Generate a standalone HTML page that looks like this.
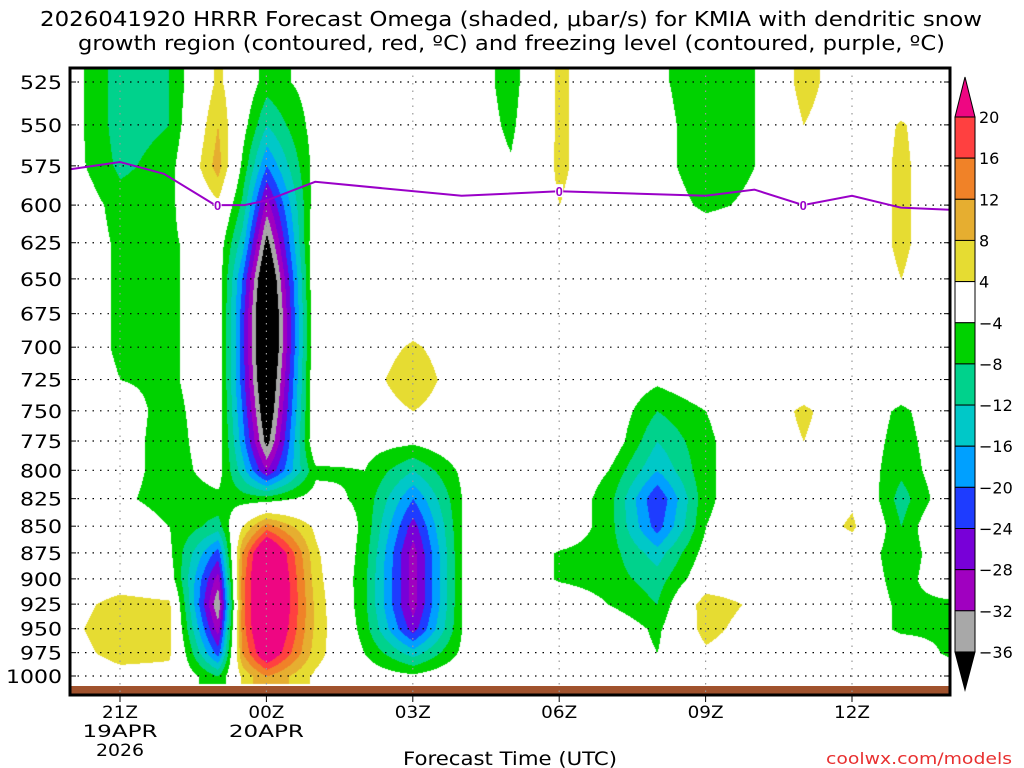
<!DOCTYPE html>
<html><head><meta charset="utf-8">
<style>
body{margin:0;background:#fff;width:1024px;height:768px;overflow:hidden;font-family:"Liberation Sans","DejaVu Sans",sans-serif;}
#wrap{position:relative;width:1024px;height:768px;}
canvas{position:absolute;left:0;top:0;}
svg{position:absolute;left:0;top:0;}
</style></head><body>
<div id="wrap">
<canvas id="cv" width="1024" height="768"></canvas>
<svg id="sv" width="1024" height="768"></svg>
</div>
<script>
const times=[20,21,22,23,23.5,24,25,26,27,28,29,30,31,32,33,34,35,36,37,38];
const levels=[525,550,575,600,625,650,675,700,725,750,775,800,825,850,875,900,925,950,975,1000];
// omega[level][time]
const omega=[
/*525*/[-2,-10,-8,5,0,-6,-2,0,0,0,-6,5,0,-3,-7,-4,6,0,0,0],
/*550*/[-2,-10,-8,8,-2,-12,-2,0,0,0,-5,5,0,-2,-7,-4,4,0,4.5,0],
/*575*/[-2,-9,-6,10,-5,-20,-2,0,0,0,-3.5,5,0,-2,-7,-4,0,0,5,0],
/*600*/[0,-6,-5,3,-9,-30,-1,0,0,0,-1,4,0,-1,-5,-3,0,0,5,0],
/*625*/[0,-5,-4.8,-1,-14,-38,1,0,0,0,0,0,0,0,0,0,0,0,5,0],
/*650*/[0,-5,-4.8,-1,-20,-45,1,0,0,0,0,0,0,0,0,0,0,0,4,0],
/*675*/[0,-5,-4.8,-1,-22,-48,1,0,0,0,0,0,0,0,0,0,0,0,0,0],
/*700*/[0,-5,-4.8,-1,-22,-48,1,0,5,0,0,0,0,0,0,0,0,0,0,0],
/*725*/[0,-4,-4.8,-1,-22,-45,1,1,8,0,0,0,0,-3,0,0,0,0,0,0],
/*750*/[0,-2,-5.5,-1,-20,-42,1,0,4,0,0,0,0,-8,-4,0,5,0,-5,0],
/*775*/[0,-2,-6,-1,-18,-38,1,-2,-3,0,0,0,0,-12,-5,0,4,0,-6,0],
/*800*/[0,-2,-6,-2,-14,-28,-5,-4,-12,-3,0,0,-4,-16,-5,0,0,0,-7,0],
/*825*/[0,-3,-6,-5,-6,-6,-2,-5,-20,-4,0,0,-6,-24,-5,0,0,3,-10,0],
/*850*/[0,0,-4,-10,4,14,3,-5,-26,-4,0,0,-6,-22,-4,0,0,5,-8,4],
/*875*/[0,0,-3,-22,12,30,5,-6,-30,-4,0,-4.5,-6,-14,-2,0,0,0,-7,0],
/*900*/[0,1,-1,-30,14,32,6,-7,-30,-4,0,-4.5,-6,-10,0,0,0,0,-6,0],
/*925*/[2,6,5,-36,14,32,7,-7,-30,-4,0,0,-4,-8,7,3,0,0,-5,-5],
/*950*/[3,7,5,-30,14,30,7,-6,-26,-4,0,0,0,-5,6,1,0,0,-5,-5],
/*975*/[2,6,5,-22,12,26,6,-4,-14,-3,0,0,0,-4,3,0,0,0,0,-5],
/*1000*/[0,2,2,-8,5,12,3,-1,-3,0,0,0,0,0,0,0,0,0,0,0]
];
const frzTimes=[20,21,21.9,22.95,23.55,24,25,28,30,33,34,35,36,37,38];
const frzLevels=[577,572.6,580,600,600,597,585,594,591,594,590,600,594,601.6,603];
const frzLabelTimes=[23,30,35];
const yTicks=[525,550,575,600,625,650,675,700,725,750,775,800,825,850,875,900,925,950,975,1000];
const xTickHours=[21,24,27,30,33,36];
const xTickLabels=[["21Z","19APR","2026"],["00Z","20APR"],["03Z"],["06Z"],["09Z"],["12Z"]];
const cbLevels=[20,16,12,8,4,-4,-8,-12,-16,-20,-24,-28,-32,-36];
const cbColors=["#ee0682","#ff4040","#f08228","#e6ae30","#e6dc32","#ffffff","#00d200","#00d28c","#00c8c8","#00a0ff","#1e3cff","#7800d8","#a000c0","#a8a8a8","#000000"];

const PL=70,PR=950,PT=68,PB=695;
function xOf(t){return 120+(t-21)*48.8;}
function tOf(x){return 21+(x-120)/48.8;}
const LN=Math.log(1000/525);
function yOf(p){return 82+Math.log(p/525)/LN*594;}
function pOf(y){return 525*Math.exp((y-82)/594*LN);}
function colorIdx(v){
  if(v>=20)return 0;if(v>=16)return 1;if(v>=12)return 2;if(v>=8)return 3;if(v>=4)return 4;
  if(v>-4)return 5;if(v>-8)return 6;if(v>-12)return 7;if(v>-16)return 8;if(v>-20)return 9;
  if(v>-24)return 10;if(v>-28)return 11;if(v>-32)return 12;if(v>-36)return 13;return 14;}
function hex(h){return [parseInt(h.substr(1,2),16),parseInt(h.substr(3,2),16),parseInt(h.substr(5,2),16)];}
const rgb=cbColors.map(hex);
function interp(t,p){
  let i0,ft;
  if(t<=times[0]){i0=0;ft=0;}else if(t>=times[times.length-1]){i0=times.length-2;ft=1;}
  else{i0=0;while(times[i0+1]<t)i0++;ft=(t-times[i0])/(times[i0+1]-times[i0]);}
  let lp=levels.findIndex(l=>l>p);let j0,fp;
  if(p<=levels[0]){j0=0;fp=0;}else if(lp<0){j0=levels.length-2;fp=1;}
  else{j0=lp-1;fp=(Math.log(p)-Math.log(levels[j0]))/(Math.log(levels[j0+1])-Math.log(levels[j0]));}
  const a=omega[j0][i0],b=omega[j0][i0+1],c=omega[j0+1][i0],d=omega[j0+1][i0+1];
  return (a*(1-ft)+b*ft)*(1-fp)+(c*(1-ft)+d*ft)*fp;}
const cv=document.getElementById('cv');const ctx=cv.getContext('2d');
ctx.fillStyle='#fff';ctx.fillRect(0,0,1024,768);
const img=ctx.getImageData(PL,PT,PR-PL,684-PT);
for(let y=0;y<img.height;y++){const p=pOf(PT+y);
  for(let x=0;x<img.width;x++){const t=tOf(PL+x);const c=rgb[colorIdx(interp(t,p))];
    const k=(y*img.width+x)*4;img.data[k]=c[0];img.data[k+1]=c[1];img.data[k+2]=c[2];img.data[k+3]=255;}}
ctx.putImageData(img,PL,PT);

const NS='http://www.w3.org/2000/svg';const sv=document.getElementById('sv');
function mk(tag,attrs,parent){const e=document.createElementNS(NS,tag);for(const k in attrs)e.setAttribute(k,attrs[k]);(parent||sv).appendChild(e);return e;}
const FF='"DejaVu Sans","Liberation Sans",sans-serif';
// ground
let g=mk('rect',{x:PL,y:686,width:PR-PL,height:PB-686,fill:'#a0522d'});


// grid + y ticks
yTicks.forEach(p=>{const y=yOf(p);
  const l=mk('line',{x1:PL,x2:PR,y1:y,y2:y,stroke:'#000','stroke-width':1.2,'stroke-dasharray':'1.5,6'});
  
  
  mk('line',{x1:PL,x2:PL+6,y1:y,y2:y,stroke:'#000'});
  mk('line',{x1:PR-6,x2:PR,y1:y,y2:y,stroke:'#000'});
  const s=String(p);
  const t=mk('text',{x:62,y:y+7,'text-anchor':'end','font-size':19,fill:'#000','font-family':FF,textLength:s.length*14,lengthAdjust:'spacingAndGlyphs'});t.textContent=s;
  
  });
xTickHours.forEach((h,i)=>{const x=xOf(h);
  const l=mk('line',{x1:x,x2:x,y1:PT,y2:PB,stroke:'#999','stroke-width':1.2,'stroke-dasharray':'1.5,6'});
  
  
  mk('line',{x1:x,x2:x,y1:PB,y2:PB+7,stroke:'#000'});
  xTickLabels[i].forEach((s,j)=>{const t=mk('text',{x:x,y:718+j*19,'text-anchor':'middle','font-size':17,fill:'#000','font-family':FF,textLength:s.length*(s.length>4?15:12),lengthAdjust:'spacingAndGlyphs'});t.textContent=s;
    
    });});
// freezing level
let d=frzTimes.map((t,i)=>(i?'L':'M')+xOf(t).toFixed(1)+','+yOf(frzLevels[i]).toFixed(1)).join(' ');
const fl=mk('path',{d:d,fill:'none',stroke:'#9a00c8','stroke-width':2});


function lvlAt(t){for(let i=0;i<frzTimes.length-1;i++)if(t>=frzTimes[i]&&t<=frzTimes[i+1]){const f=(t-frzTimes[i])/(frzTimes[i+1]-frzTimes[i]);return frzLevels[i]*(1-f)+frzLevels[i+1]*f;}return frzLevels[0];}
frzLabelTimes.forEach(t=>{const x=xOf(t),y=yOf(lvlAt(t));
  mk('rect',{x:x-4,y:y-7,width:8,height:13,fill:'#fff'});
  const tx=mk('text',{x:x,y:y+5,'text-anchor':'middle','font-size':13,fill:'#9a00c8','font-weight':'bold'});tx.textContent='0';
  
  });
// frame
const fr=mk('rect',{x:PL,y:PT,width:PR-PL,height:PB-PT,fill:'none',stroke:'#000','stroke-width':3});


// colorbar
const CBX=955,CBW=20,step=41.15,top20=117;
const tri=mk('polygon',{points:`${CBX},${top20} ${CBX+CBW},${top20} ${CBX+CBW/2},77`,fill:cbColors[0],stroke:'#000'});


for(let i=1;i<cbColors.length-1;i++){const r=mk('rect',{x:CBX,y:top20+(i-1)*step,width:CBW,height:step,fill:cbColors[i],stroke:'#000'});
  
  }
const yb=top20+(cbColors.length-2)*step;
const tri2=mk('polygon',{points:`${CBX},${yb} ${CBX+CBW},${yb} ${CBX+CBW/2},690`,fill:'#000',stroke:'#000'});


cbLevels.forEach((v,i)=>{const t=mk('text',{x:979,y:top20+i*step+6,'font-size':16,fill:'#000','font-family':FF});t.textContent=v<0?'\u2212'+(-v):v;
  
  });
// titles
[["2026041920 HRRR Forecast Omega (shaded, \u03bcbar/s) for KMIA with dendritic snow",26,40,942],["growth region (contoured, red, \u00baC) and freezing level (contoured, purple, \u00baC)",50,78,867]].forEach(([s,y,x,w])=>{
  const t=mk('text',{x:x,y:y,'font-size':20.5,fill:'#000','font-family':FF,textLength:w,lengthAdjust:'spacingAndGlyphs'});t.textContent=s;
  
  });
const xt=mk('text',{x:403,y:765,'font-size':19,fill:'#000','font-family':FF,textLength:214,lengthAdjust:'spacingAndGlyphs'});xt.textContent='Forecast Time (UTC)';


const cr=mk('text',{x:826,y:764,'font-size':16,fill:'#e83030','font-family':FF,textLength:186,lengthAdjust:'spacingAndGlyphs'});cr.textContent='coolwx.com/models';


</script>
</body></html>
